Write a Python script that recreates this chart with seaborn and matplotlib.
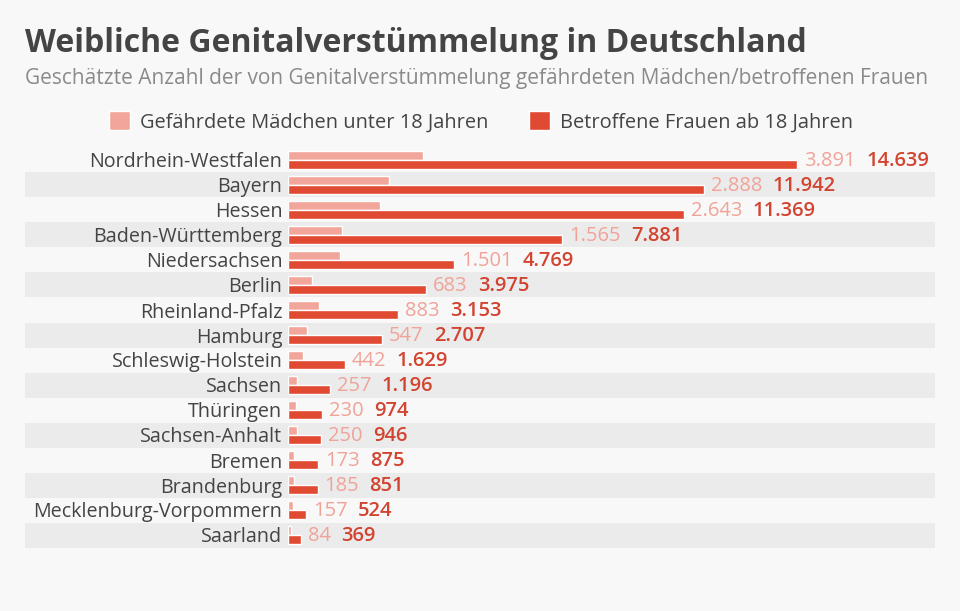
import seaborn as sns
import matplotlib.pyplot as plt
import matplotlib.transforms as mtransforms
from matplotlib.patches import Rectangle, Patch
import pandas as pd

# Data
laender = ["Nordrhein-Westfalen", "Bayern", "Hessen", "Baden-Württemberg",
           "Niedersachsen", "Berlin", "Rheinland-Pfalz", "Hamburg",
           "Schleswig-Holstein", "Sachsen", "Thüringen", "Sachsen-Anhalt",
           "Bremen", "Brandenburg", "Mecklenburg-Vorpommern", "Saarland"]
maedchen = [3891, 2888, 2643, 1565, 1501, 683, 883, 547, 442, 257, 230, 250,
            173, 185, 157, 84]
frauen = [14639, 11942, 11369, 7881, 4769, 3975, 3153, 2707, 1629, 1196, 974,
          946, 875, 851, 524, 369]
serien = ["Gefährdete Mädchen unter 18 Jahren", "Betroffene Frauen ab 18 Jahren"]

light = "#f2a69b"
red = "#e04a33"
text_light = "#f0a398"
text_red = "#d24330"
bg = "#f8f8f8"
band = "#ebebeb"

df = pd.DataFrame({"Land": laender * 2,
                   "Wert": maedchen + frauen,
                   "Serie": [serien[0]] * len(laender) + [serien[1]] * len(laender)})

sns.set_theme(style="white")
plt.rcParams["font.family"] = ["Open Sans", "DejaVu Sans"]

fig = plt.figure(figsize=(9.6, 6.11), dpi=100, facecolor=bg)
ax = fig.add_axes([288 / 960, 1 - 547.5 / 611, (935 - 288) / 960, 400 / 611])
ax.set_facecolor("none")

sns.barplot(data=df, y="Land", x="Wert", hue="Serie", orient="h",
            palette=[light, red], width=0.76, gap=0.05, legend=False,
            saturation=1, ax=ax)

ax.set_xlim(0, 18590)
ax.set_ylim(len(laender) - 0.5, -0.5)

# alternating row bands spanning the whole chart width
trans = mtransforms.blended_transform_factory(fig.transFigure, ax.transData)
for i in range(len(laender)):
    if i % 2 == 1:
        ax.add_patch(Rectangle((25 / 960, i - 0.5), (935 - 25) / 960, 1,
                               transform=trans, facecolor=band, edgecolor="none",
                               zorder=0, clip_on=False))

# value labels
for i, (m, f) in enumerate(zip(maedchen, frauen)):
    t = ax.annotate(f"{m:,}".replace(",", "."), xy=(max(m, f), i + 0.05), xytext=(5, 0),
                    textcoords="offset points", va="center", ha="left",
                    fontsize=14.5, color=text_light)
    ax.annotate(f"{f:,}".replace(",", "."), xy=(1, 0.5), xycoords=t,
                xytext=(7.5, 0), textcoords="offset points", va="center",
                ha="left", fontsize=14.5, fontweight="semibold", color=text_red)

ax.set_xlabel("")
ax.set_ylabel("")
ax.set_xticks([])
ax.tick_params(axis="y", length=0, pad=4, labelsize=14.2, labelcolor="#444444")
sns.despine(ax=ax, left=True, bottom=True)

fig.text(25 / 960, 1 - 52 / 611, "Weibliche Genitalverstümmelung in Deutschland",
         fontsize=23, fontweight="bold", color="#444444", ha="left", va="baseline")
fig.text(25 / 960, 1 - 84 / 611,
         "Geschätzte Anzahl der von Genitalverstümmelung gefährdeten Mädchen/betroffenen Frauen",
         fontsize=15, color="#8a8a8a", ha="left", va="baseline")

handles = [Patch(facecolor=light, label=serien[0]), Patch(facecolor=red, label=serien[1])]
fig.legend(handles=handles, loc="center", bbox_to_anchor=(481 / 960, 1 - 122 / 611),
           ncol=2, frameon=False, fontsize=14.4, handlelength=1.05, handleheight=1.05,
           handletextpad=0.5, columnspacing=2.0, labelcolor="#444444")

fig.savefig("out.png", dpi=100, facecolor=bg)
